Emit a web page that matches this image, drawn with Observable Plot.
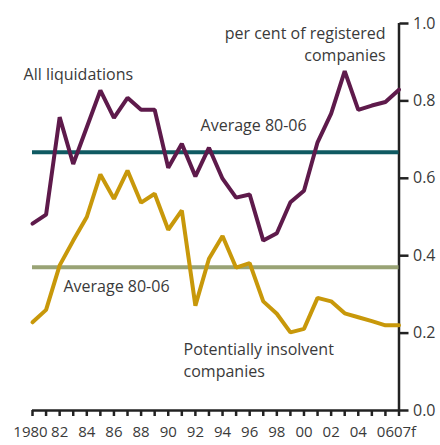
<!DOCTYPE html>
<html>
<head>
<meta charset="utf-8">
<script src="https://cdn.jsdelivr.net/npm/d3@7"></script>
<script src="https://cdn.jsdelivr.net/npm/@observablehq/plot@0.6"></script>
<style>
  html, body { margin: 0; padding: 0; background: #fff; }
  #chart { width: 440px; height: 445px; }
</style>
</head>
<body>
<div id="chart"></div>
<script>
const years = d3.range(1980, 2008);
const allLiquidations = [0.483, 0.506, 0.758, 0.637, 0.732, 0.827, 0.756, 0.808, 0.777, 0.777,
  0.627, 0.689, 0.605, 0.679, 0.599, 0.550, 0.558, 0.439, 0.458, 0.538,
  0.568, 0.693, 0.767, 0.877, 0.777, 0.788, 0.797, 0.829];
const potentiallyInsolvent = [0.228, 0.260, 0.375, 0.439, 0.500, 0.610, 0.547, 0.620, 0.537, 0.560,
  0.467, 0.517, 0.271, 0.392, 0.451, 0.369, 0.381, 0.282, 0.250, 0.202,
  0.211, 0.291, 0.282, 0.251, 0.241, 0.231, 0.220, 0.220];
const avgLiquidations = 0.667;
const avgInsolvent = 0.370;
const yTicks = [0, 0.2, 0.4, 0.6, 0.8, 1.0];
const xTickLabels = ["1980","","82","","84","","86","","88","","90","","92","","94","","96","","98","","00","","02","","04","","06","07f"];

const liqData = years.map((y, i) => ({year: y, value: allLiquidations[i]}));
const insData = years.map((y, i) => ({year: y, value: potentiallyInsolvent[i]}));
const labelOf = (d) => xTickLabels[years.indexOf(d)];

const textColor = "#3a3a3a";
const font = "'Open Sans', 'Noto Sans', sans-serif";
const xLabelStyle = {tickSize: 0, tickPadding: 16, fill: textColor, fontSize: 15, label: null, stroke: null};

const chart = Plot.plot({
  width: 440,
  height: 445,
  marginLeft: 32,
  marginRight: 41.5,
  marginTop: 23,
  marginBottom: 35,
  style: {fontFamily: font, fontSize: "16px", fontWeight: 400, color: textColor, background: "#fff"},
  x: {domain: [1980, 2007]},
  y: {domain: [0, 1]},
  marks: [
    // x ticks (every year)
    Plot.axisX({ticks: years, tickSize: 6, tickFormat: () => "", stroke: "#222", strokeWidth: 2.5, label: null}),
    // x labels
    Plot.axisX({...xLabelStyle, ticks: years.slice(1, 27), tickFormat: labelOf}),
    Plot.axisX({...xLabelStyle, ticks: [1980], tickFormat: labelOf, dx: -2}),
    Plot.axisX({...xLabelStyle, ticks: [2007], tickFormat: labelOf, dx: 6}),
    Plot.axisY({
      anchor: "right",
      ticks: yTicks,
      tickSize: 9,
      tickPadding: 5,
      tickFormat: d3.format(".1f"),
      stroke: "#222",
      strokeWidth: 2.5,
      fill: textColor,
      fontSize: 16,
      label: null
    }),
    Plot.ruleY([0], {x1: 1980, x2: 2007, stroke: "#222", strokeWidth: 2.5}),
    Plot.ruleX([2007], {y1: 0, y2: 1, stroke: "#222", strokeWidth: 2.5}),
    Plot.ruleY([avgLiquidations], {x1: 1980, x2: 2007, stroke: "#0f5a62", strokeWidth: 4}),
    Plot.ruleY([avgInsolvent], {x1: 1980, x2: 2007, stroke: "#99a375", strokeWidth: 4}),
    Plot.line(liqData, {x: "year", y: "value", stroke: "#5e1a4b", strokeWidth: 4, strokeLinejoin: "miter"}),
    Plot.line(insData, {x: "year", y: "value", stroke: "#c8980a", strokeWidth: 4, strokeLinejoin: "miter"}),
    Plot.text(["All liquidations"], {x: 1979.34, y: 0.868, textAnchor: "start", fill: textColor, fontSize: 16}),
    Plot.text(["Average 80-06"], {x: 1992.38, y: 0.736, textAnchor: "start", fill: textColor, fontSize: 16}),
    Plot.text(["Average 80-06"], {x: 1982.28, y: 0.320, textAnchor: "start", fill: textColor, fontSize: 16}),
    Plot.text(["per cent of registered\ncompanies"], {x: 2006.01, y: 0.950, textAnchor: "end", lineHeight: 1.4, fill: textColor, fontSize: 16}),
    Plot.text(["Potentially insolvent\ncompanies"], {x: 1991.13, y: 0.134, textAnchor: "start", lineHeight: 1.4, fill: textColor, fontSize: 16})
  ]
});
document.getElementById("chart").appendChild(chart);
</script>
</body>
</html>
